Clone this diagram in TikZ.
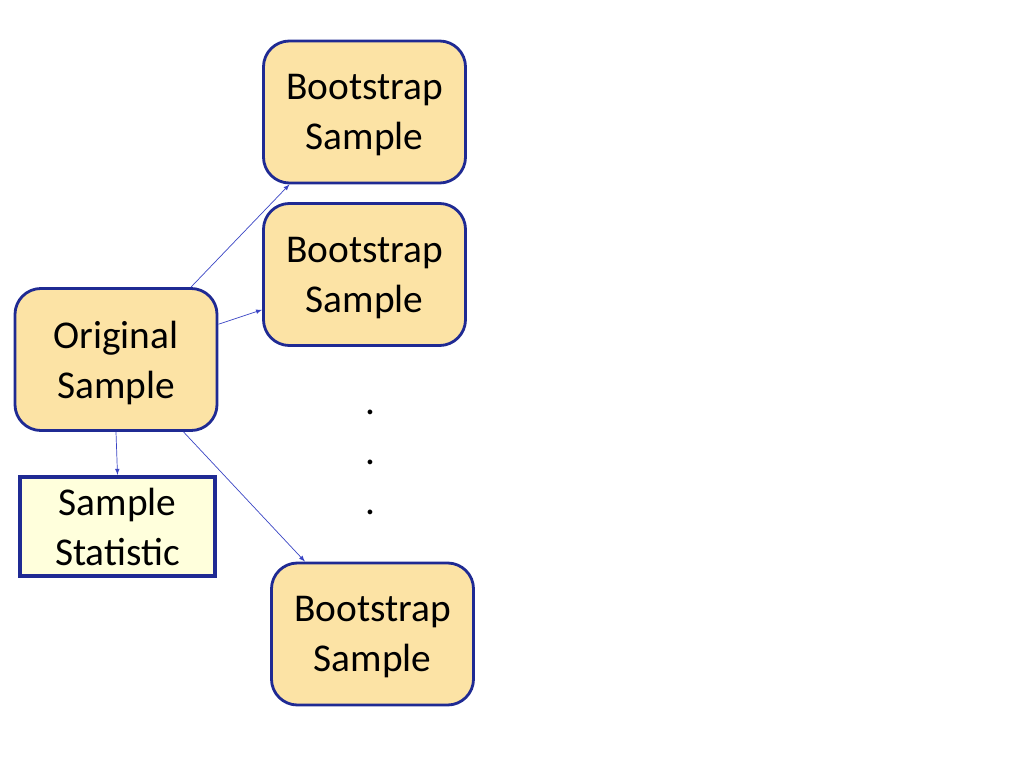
\documentclass[tikz,border=0pt]{standalone}
\usepackage{fontspec}
\setmainfont{Carlito}
\usetikzlibrary{arrows}

\definecolor{boxfill}{HTML}{FCE3A5}
\definecolor{boxline}{HTML}{1F2A93}
\definecolor{statfill}{HTML}{FFFFDC}
\definecolor{arrowblue}{HTML}{3A45C4}

\tikzstyle{sample} = [rectangle, rounded corners=6.5mm, draw=boxline, line width=2pt, fill=boxfill, minimum width=5.05cm, minimum height=3.55cm, align=center, text depth=0pt, font=\fontsize{28}{35.5}\selectfont]
\tikzstyle{stat} = [rectangle, draw=boxline, line width=2.8pt, fill=statfill, minimum width=4.88cm, minimum height=2.48cm, align=center, text depth=0pt, font=\fontsize{28}{35.5}\selectfont]
\tikzstyle{link} = [->, draw=arrowblue, line width=0.5pt]

\begin{document}
\begin{tikzpicture}[x=0.025cm, y=-0.025cm, >=latex]
		\useasboundingbox (0,0) rectangle (1019,762);
		%\draw[help lines, step=50] (0,0) grid (1019,762);
		
		\node[sample] (orig) at (116, 359.5) {Original\\Sample};
		\node[stat] (stat) at (117.5, 526.5) {Sample\\Statistic};
		
		\foreach \n\x\y in {1/364.5/112, 2/364.5/274.5, 3/372.5/634}
		\node[sample] (boot\n) at (\x, \y) {Bootstrap\\Sample};
		
		\node[align=center, font=\fontsize{28}{35.5}\selectfont] (dots) at (370, 462) {.\\.\\.};
		
		\draw[link] (orig.44) -- (boot1.224);
		\draw[link] (orig.19) -- (boot2.199);
		\draw[link] (orig.313) -- (boot3.133);
		\draw[link] (orig.south) -- (stat.north);
		
	\end{tikzpicture}
\end{document}
